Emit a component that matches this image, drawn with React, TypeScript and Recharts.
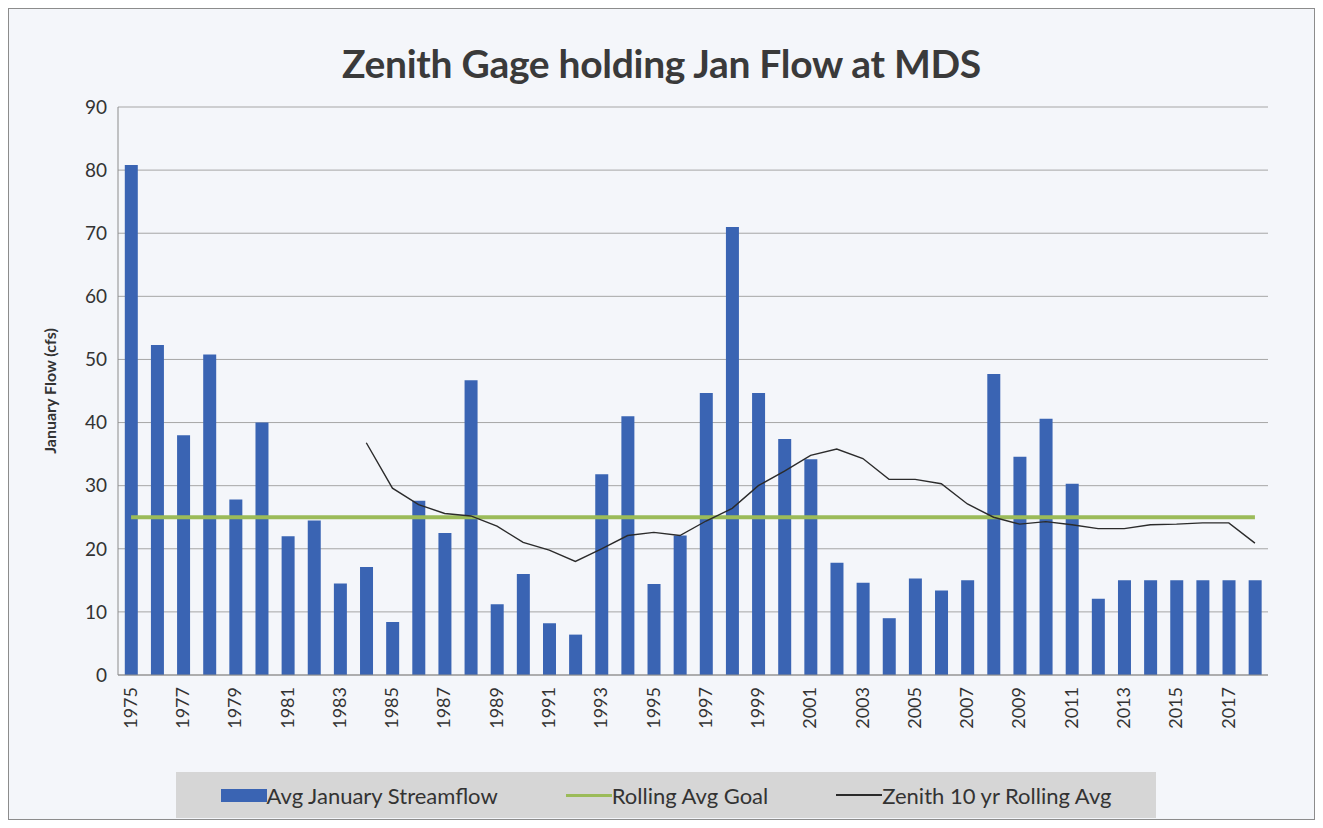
import { Bar, CartesianGrid, ComposedChart, Line, XAxis, YAxis, Label } from "recharts";

const years = [
  "1975", "1976", "1977", "1978", "1979", "1980", "1981", "1982", "1983", "1984",
  "1985", "1986", "1987", "1988", "1989", "1990", "1991", "1992", "1993", "1994",
  "1995", "1996", "1997", "1998", "1999", "2000", "2001", "2002", "2003", "2004",
  "2005", "2006", "2007", "2008", "2009", "2010", "2011", "2012", "2013", "2014",
  "2015", "2016", "2017", "2018",
];

const streamflow = [
  80.8, 52.3, 38, 50.8, 27.8, 40, 22, 24.5, 14.5, 17.1,
  8.4, 27.6, 22.5, 46.7, 11.2, 16, 8.2, 6.4, 31.8, 41,
  14.4, 22.1, 44.7, 71, 44.7, 37.4, 34.2, 17.8, 14.6, 9,
  15.3, 13.4, 15, 47.7, 34.6, 40.6, 30.3, 12.1, 15, 15,
  15, 15, 15, 15,
];

const goal = years.map(() => 25);

const rolling: (number | null)[] = [
  null, null, null, null, null, null, null, null, null, 36.8,
  29.6, 27, 25.6, 25.2, 23.6, 21, 19.8, 18, 20, 22.1,
  22.6, 22.1, 24.4, 26.4, 30, 32.3, 34.8, 35.8, 34.3, 31,
  31, 30.3, 27.1, 25, 23.9, 24.3, 23.8, 23.2, 23.2, 23.8,
  23.9, 24.1, 24.1, 20.9,
];

const yTicks = [0, 10, 20, 30, 40, 50, 60, 70, 80, 90];

const data = years.map((year, i) => ({
  year,
  flow: streamflow[i],
  goal: goal[i],
  rolling: rolling[i],
}));

const FONT = "Lato, 'Open Sans', sans-serif";

export default function App() {
  return (
    <div
      style={{
        position: "relative",
        width: 1305,
        height: 810,
        border: "1px solid #8c8c8c",
        background: "#f4f6fa",
        fontFamily: FONT,
      }}
    >
      <div
        style={{
          position: "absolute",
          top: 31,
          left: 0,
          width: 1305,
          textAlign: "center",
          fontSize: 39,
          fontWeight: 700,
          color: "#3a3a3a",
          letterSpacing: -0.3,
        }}
      >
        Zenith Gage holding Jan Flow at MDS
      </div>
      <div style={{ position: "absolute", left: 0, top: 0 }}>
        <ComposedChart
          width={1305}
          height={760}
          data={data}
          margin={{ top: 98, right: 46, bottom: 0, left: 49 }}
          barCategoryGap="26%"
        >
          <CartesianGrid vertical={false} stroke="#a6a6a6" />
          <XAxis
            dataKey="year"
            interval={1}
            angle={-90}
            textAnchor="end"
            height={94}
            tickLine={false}
            stroke="#8c8c8c"
            tick={{ fontSize: 18, fill: "#333", fontFamily: FONT, dx: -7, dy: 4 }}
          />
          <YAxis
            domain={[0, 90]}
            ticks={yTicks}
            width={60}
            stroke="#8c8c8c"
            tickLine={false}
            tick={{ fontSize: 19, fill: "#333", fontFamily: FONT, dx: -3 }}
          >
            <Label
              value="January Flow (cfs)"
              angle={-90}
              position="insideLeft"
              offset={-8}
              style={{ textAnchor: "middle", fontSize: 16, fontWeight: 700, fill: "#333", fontFamily: FONT }}
            />
          </YAxis>
          <Bar dataKey="flow" fill="#3a64b3" isAnimationActive={false} />
          <Line
            dataKey="goal"
            stroke="#9bbb59"
            strokeWidth={4}
            dot={false}
            isAnimationActive={false}
          />
          <Line
            dataKey="rolling"
            stroke="#2b2b2b"
            strokeWidth={1.4}
            dot={false}
            connectNulls={false}
            isAnimationActive={false}
          />
        </ComposedChart>
      </div>
      <div
        style={{
          position: "absolute",
          left: 167,
          top: 763,
          width: 980,
          height: 46,
          background: "#d6d6d6",
          display: "flex",
          alignItems: "center",
          justifyContent: "center",
          gap: 68,
          fontSize: 22,
          color: "#333",
        }}
      >
        <div style={{ display: "flex", alignItems: "center" }}>
          <span style={{ width: 46, height: 13, background: "#3a64b3", display: "inline-block" }} />
          <span>Avg January Streamflow</span>
        </div>
        <div style={{ display: "flex", alignItems: "center" }}>
          <span style={{ width: 46, height: 3, background: "#9bbb59", display: "inline-block" }} />
          <span>Rolling Avg Goal</span>
        </div>
        <div style={{ display: "flex", alignItems: "center" }}>
          <span style={{ width: 46, height: 1.5, background: "#2b2b2b", display: "inline-block" }} />
          <span>Zenith 10 yr Rolling Avg</span>
        </div>
      </div>
    </div>
  );
}
